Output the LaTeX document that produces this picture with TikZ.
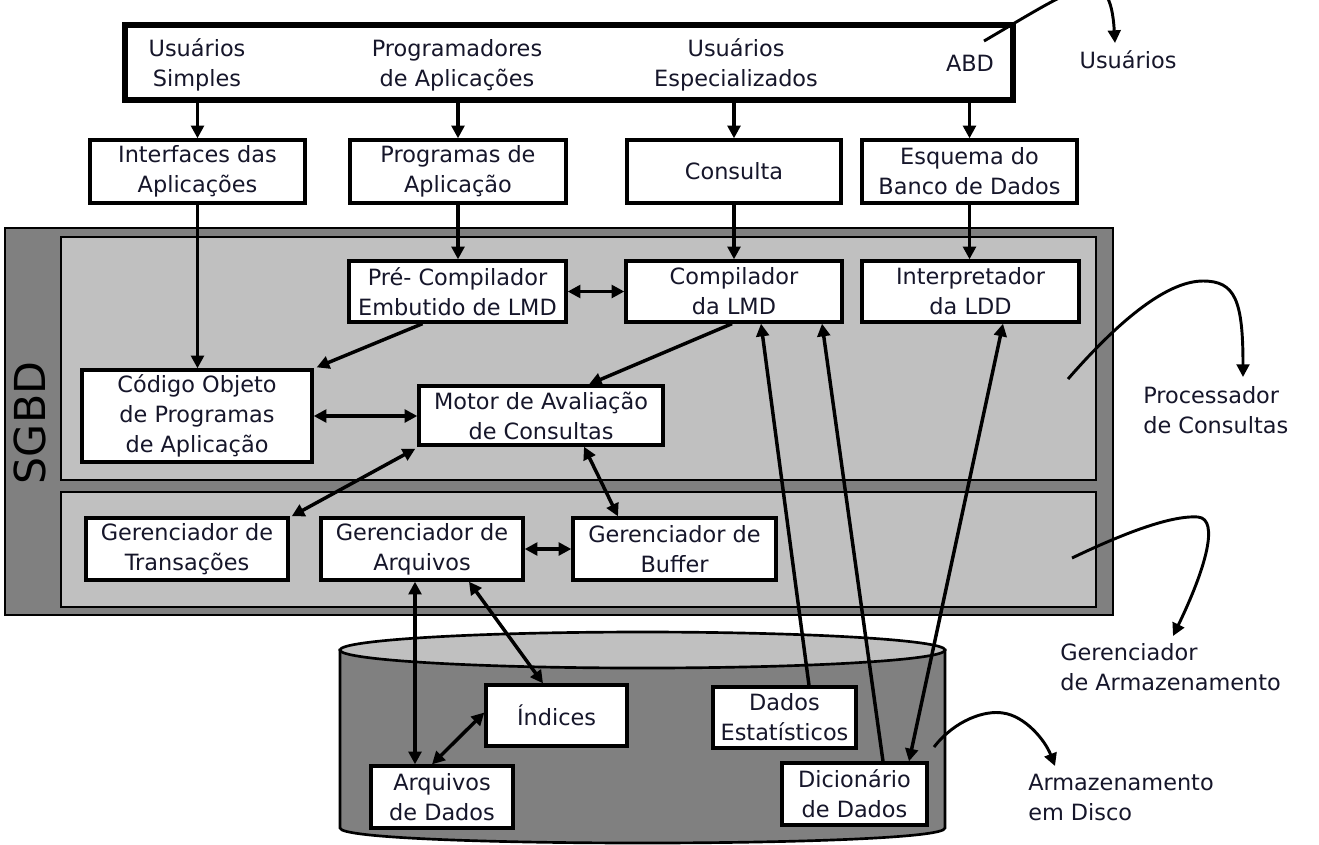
\documentclass[tikz,border=0pt]{standalone}
\usepackage{fontspec}
\setmainfont{DejaVu Sans}
\usetikzlibrary{arrows.meta,calc}

\definecolor{ink}{HTML}{16162A}
\definecolor{panelgray}{HTML}{C0C0C0}
\definecolor{framegray}{HTML}{808080}

\begin{document}
\begin{tikzpicture}[x=0.75pt,y=-0.75pt,
  font=\fontsize{16.8}{22.5}\selectfont,
  box/.style={draw=black, line width=2.5pt, fill=white, align=center,
              text=ink, inner sep=0pt},
  txt/.style={align=center, text=ink, inner sep=0pt},
  lbl/.style={align=left, text=ink, inner sep=0pt, anchor=west},
  tip/.tip={Triangle[length=9.5pt,width=9.5pt]},
  conn/.style={line width=2.6pt, -tip},
  both/.style={line width=2.6pt, tip-tip},
  note/.style={line width=2.2pt, -tip}
]
\useasboundingbox (0,0) rectangle (1319,844);
\clip (0,0) rectangle (1319,844);
\fill[white] (0,0) rectangle (1319,844);

% ---- DBMS frame and its two layers
\draw[fill=framegray, line width=2pt] (5,228) rectangle (1113,615);
\draw[fill=panelgray, line width=2pt] (61,237) rectangle (1096,480);
\draw[fill=panelgray, line width=2pt] (61,492) rectangle (1096,607);
\node[rotate=90, font=\fontsize{32}{32}\selectfont, text=black, inner sep=0pt] (sgbd) at (30,423) {SGBD};

% ---- disk cylinder
\draw[fill=framegray, line width=2pt] (340,650) -- (340,828)
  .. controls (340,848) and (945,848) .. (945,828) -- (945,650) -- cycle;
\draw[fill=panelgray, line width=2pt] (642.5,650) ellipse [x radius=302.5, y radius=18];

% ---- users
\node[draw=black, line width=3.8pt, fill=white, minimum width=666pt, minimum height=56.25pt, inner sep=0pt] (users) at (569,62.5) {};
\node[txt] (uSimple) at (197,65) {Usuários\\Simples};
\node[txt] (uProg) at (457,65) {Programadores\\de Aplicações};
\node[txt] (uSpec) at (736,65) {Usuários\\Especializados};
\node[txt] (uAbd) at (970,63) {ABD};

% ---- second row
\node[box, minimum width=161.25pt, minimum height=47.25pt] (iface) at (197.5,171.5) {Interfaces das\\Aplicações};
\node[box, minimum width=162pt, minimum height=47.25pt] (progs) at (458,171.5) {Programas de\\Aplicação};
\node[box, minimum width=160.5pt, minimum height=47.25pt] (query) at (734,171.5) {Consulta};
\node[box, minimum width=161.25pt, minimum height=47.25pt] (schema) at (969.5,171.5) {Esquema do\\Banco de Dados};

% ---- query processor
\node[box, minimum width=162.75pt, minimum height=45.75pt] (precomp) at (457.5,291.5) {Pré- Compilador\\Embutido de LMD};
\node[box, minimum width=162pt, minimum height=45.75pt] (compiler) at (734,291.5) {Compilador\\da LMD};
\node[box, minimum width=162.75pt, minimum height=45.75pt] (ddl) at (970.5,291.5) {Interpretador\\da LDD};
\node[box, minimum width=172.5pt, minimum height=69pt] (objcode) at (197,416) {Código Objeto\\de Programas\\de Aplicação};
\node[box, minimum width=183pt, minimum height=44.25pt] (engine) at (541,415.5) {Motor de Avaliação\\de Consultas};

% ---- storage manager
\node[box, minimum width=151.5pt, minimum height=46.5pt] (trans) at (187,549) {Gerenciador de\\Transações};
\node[box, minimum width=151.5pt, minimum height=46.5pt] (files) at (422,549) {Gerenciador de\\Arquivos};
\node[box, minimum width=152.25pt, minimum height=46.5pt] (buffer) at (674.5,549) {Gerenciador de\\Buffer};

% ---- disk contents
\node[box, minimum width=105.75pt, minimum height=45.75pt] (idx) at (556.5,715.5) {Índices};
\node[box, minimum width=106.5pt, minimum height=46.5pt] (datafiles) at (442,797) {Arquivos\\de Dados};
\node[box, minimum width=107.25pt, minimum height=45.75pt] (stats) at (784.5,717.5) {Dados\\Estatísticos};
\node[box, minimum width=108.75pt, minimum height=46.5pt] (dict) at (854.5,794) {Dicionário\\de Dados};

% ---- flows
\draw[conn] (iface.north |- users.south) -- (iface.north);
\draw[conn] (progs.north |- users.south) -- (progs.north);
\draw[conn] (query.north |- users.south) -- (query.north);
\draw[conn] (schema.north |- users.south) -- (schema.north);

\draw[conn] (iface.south) -- (iface.south |- objcode.north);
\draw[conn] (progs.south) -- (progs.south |- precomp.north);
\draw[conn] (query.south) -- (query.south |- compiler.north);
\draw[conn] (schema.south) -- (schema.south |- ddl.north);

\draw[conn] ($(precomp.south)+(-35,0)$) -- ($(objcode.north east)+(3,-1)$);
\draw[conn] ($(compiler.south)+(-2,0)$) -- ($(engine.north)+(48,0)$);
\draw[both] (precomp.east) -- (compiler.west);
\draw[both] (objcode.east) -- (objcode.east -| engine.west);
\draw[both] ($(engine.south west)+(-2,2)$) -- ($(trans.north east)+(2,0)$);
\draw[both] ($(engine.south)+(43,0)$) -- ($(buffer.north)+(-56.5,0)$);
\draw[both] (files.east) -- (buffer.west);
\draw[both] ($(files.south)+(-7,0)$) -- ($(datafiles.north)+(-27,0)$);
\draw[both] ($(files.south)+(47,0)$) -- ($(idx.north)+(-13.5,0)$);
\draw[both] ($(idx.west)+(0,-3)$) -- ($(datafiles.north)+(-10,0)$);
\draw[conn] ($(stats.north)+(24.5,0)$) -- ($(compiler.south)+(27,0)$);
\draw[conn] ($(dict.north)+(28.5,0)$) -- ($(compiler.south)+(88,0)$);
\draw[both] ($(ddl.south)+(32.5,0)$) -- ($(dict.north)+(54.5,0)$);

% ---- side labels
\node[txt] (lUsers) at (1128,60) {Usuários};
\node[lbl] (lProc) at (1143,410) {Processador\\de Consultas};
\node[lbl] (lStore) at (1060,667) {Gerenciador\\de Armazenamento};
\node[lbl] (lDisk) at (1028,797) {Armazenamento\\em Disco};

\coordinate (cUsers) at (984,41);
\coordinate (eUsers) at (1115,43);
\coordinate (cProc) at (1068,379);
\coordinate (eProc) at (1243,377);
\coordinate (cStore) at (1072,558);
\coordinate (eStore) at (1173,636);
\coordinate (cDisk) at (934,747);
\coordinate (eDisk) at (1055,766);

\draw[note] (cUsers) .. controls (1080,-15) and (1110,-40) .. (eUsers);
\draw[note] (cProc) .. controls (1115,325) and (1165,281) .. (1203,281)
  .. controls (1235,281) and (1243,300) .. (eProc);
\draw[note] (cStore) .. controls (1120,535) and (1170,515) .. (1198,517)
  .. controls (1220,519) and (1205,570) .. (eStore);
\draw[note] (cDisk) .. controls (955,720) and (985,710) .. (1003,713)
  .. controls (1025,716) and (1045,740) .. (eDisk);
\end{tikzpicture}
\end{document}
